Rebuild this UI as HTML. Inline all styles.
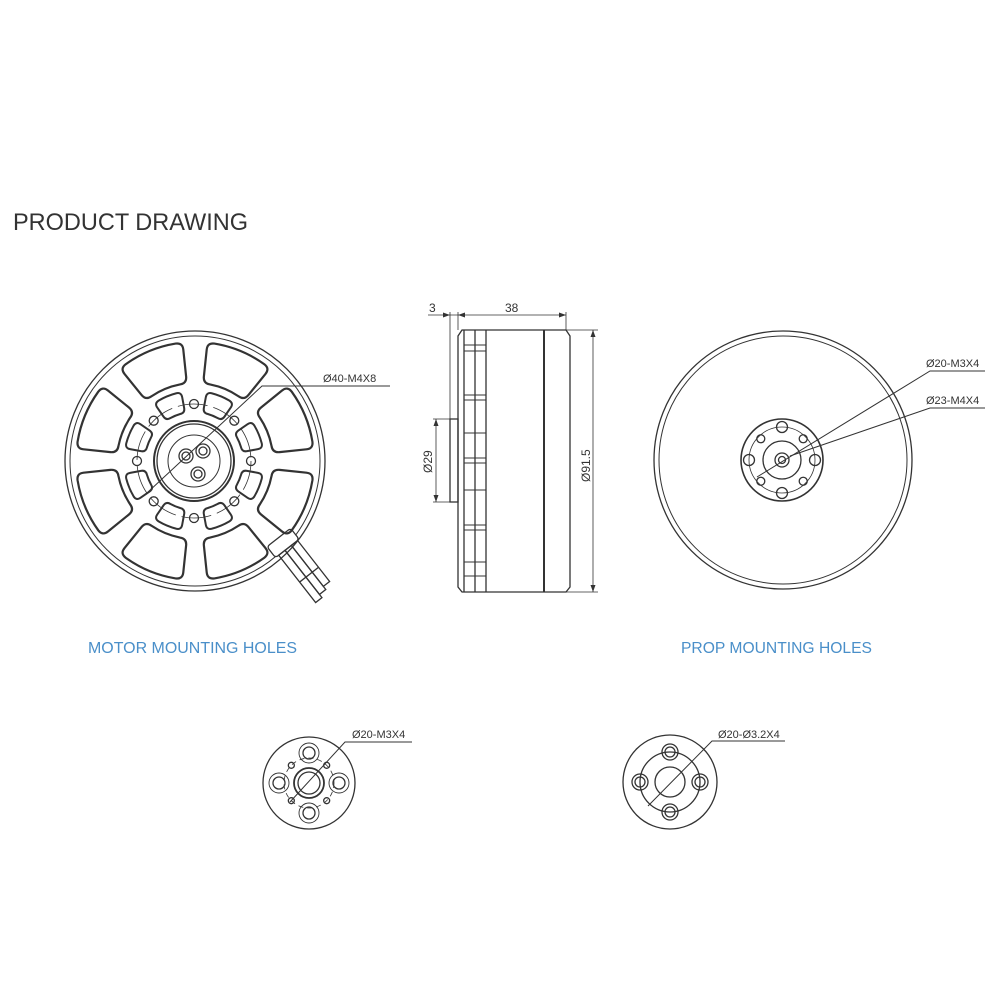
<!DOCTYPE html>
<html><head><meta charset="utf-8"><style>
html,body{margin:0;padding:0;background:#fff;width:1000px;height:1000px;overflow:hidden}
svg{display:block}
text{font-family:"Liberation Sans",sans-serif}
</style></head><body>
<svg id="s" width="1000" height="1000" viewBox="0 0 1000 1000" xmlns="http://www.w3.org/2000/svg">
<rect width="1000" height="1000" fill="#fff"/>
<text x="13" y="230" font-size="24" fill="#333" textLength="235" lengthAdjust="spacingAndGlyphs">PRODUCT DRAWING</text>
<text x="88" y="653" font-size="16" fill="#4a8fc9" textLength="209" lengthAdjust="spacingAndGlyphs">MOTOR MOUNTING HOLES</text>
<text x="681" y="653" font-size="16" fill="#4a8fc9" textLength="191" lengthAdjust="spacingAndGlyphs">PROP MOUNTING HOLES</text>

<g id="g" fill="none" stroke="#333" stroke-width="1.3">
<circle cx="195" cy="461" r="130"/>
<circle cx="195" cy="461" r="125" stroke-width="1"/>
<circle cx="194" cy="461" r="40" stroke-width="2"/>
<circle cx="194" cy="461" r="37"/>
<circle cx="194" cy="461" r="26" stroke-width="1"/>
<circle cx="194" cy="461" r="57" stroke-width="0.8" stroke-dasharray="30 6"/>
<circle cx="186" cy="456" r="7"/><circle cx="186" cy="456" r="4"/>
<circle cx="203" cy="451" r="7"/><circle cx="203" cy="451" r="4"/>
<circle cx="198" cy="474" r="7"/><circle cx="198" cy="474" r="4"/>
<polyline points="148,492 262,386 390,386" stroke-width="1"/>
<g transform="translate(282,540) rotate(52)">
<rect x="-4" y="-14" width="14" height="30" rx="3" fill="#fff"/>
<rect x="10" y="-12" width="52" height="8"/>
<rect x="10" y="-4" width="56" height="8"/>
<rect x="10" y="4" width="60" height="8"/>
<line x1="44" y1="-12" x2="44" y2="12"/>
</g>
<path d="M462,330 L566,330 L570,336 L570,587 L566,592 L462,592 L458,587 L458,336 Z"/>
<line x1="544" y1="330" x2="544" y2="592" stroke-width="2"/>
<line x1="464" y1="330" x2="464" y2="592"/>
<line x1="475" y1="330" x2="475" y2="592"/>
<line x1="486" y1="330" x2="486" y2="592"/>
<g stroke-width="1">
<line x1="464" y1="345" x2="486" y2="345"/><line x1="464" y1="351" x2="486" y2="351"/>
<line x1="464" y1="395" x2="486" y2="395"/><line x1="464" y1="400" x2="486" y2="400"/>
<line x1="464" y1="433" x2="486" y2="433"/><line x1="464" y1="458" x2="486" y2="458"/>
<line x1="464" y1="463" x2="486" y2="463"/><line x1="464" y1="490" x2="486" y2="490"/>
<line x1="464" y1="525" x2="486" y2="525"/><line x1="464" y1="530" x2="486" y2="530"/>
<line x1="464" y1="562" x2="486" y2="562"/><line x1="464" y1="576" x2="486" y2="576"/>
</g>
<rect x="450" y="419" width="8" height="83"/>
<line x1="450" y1="312" x2="450" y2="419" stroke-width="0.8"/>
<line x1="458" y1="312" x2="458" y2="330" stroke-width="0.8"/>
<line x1="566" y1="312" x2="566" y2="330" stroke-width="0.8"/>
<line x1="428" y1="315" x2="566" y2="315" stroke-width="0.8"/>
<line x1="433" y1="419" x2="450" y2="419" stroke-width="0.8"/>
<line x1="433" y1="502" x2="450" y2="502" stroke-width="0.8"/>
<line x1="436" y1="419" x2="436" y2="502" stroke-width="0.8"/>
<line x1="566" y1="330" x2="598" y2="330" stroke-width="0.8"/>
<line x1="566" y1="592" x2="598" y2="592" stroke-width="0.8"/>
<line x1="593" y1="330" x2="593" y2="592" stroke-width="0.8"/>
<circle cx="783" cy="460" r="129"/>
<circle cx="783" cy="460" r="124" stroke-width="1"/>
<circle cx="782" cy="460" r="41" stroke-width="1.6"/>
<circle cx="782" cy="460" r="33" stroke-width="0.8"/>
<circle cx="782" cy="460" r="19"/>
<circle cx="782" cy="460" r="7"/><circle cx="782" cy="460" r="3.5"/>
<polyline points="757,477 930,371 985,371" stroke-width="1"/>
<polyline points="790,456 930,408 985,408" stroke-width="1"/>
<circle cx="309" cy="783" r="46"/>
<circle cx="309" cy="783" r="15" stroke-width="1.8"/>
<circle cx="309" cy="783" r="11"/>
<circle cx="309" cy="783" r="25" stroke-width="0.8" stroke-dasharray="5 4"/>
<polyline points="290,802 345,742 412,742" stroke-width="1"/>
<circle cx="670" cy="782" r="47"/>
<circle cx="670" cy="782" r="30"/>
<circle cx="670" cy="782" r="15"/>
<polyline points="648,806 712,741 785,741" stroke-width="1"/>
</g>
<g fill="#333" font-size="11">
<text x="323" y="382">Ø40-M4X8</text>
<text x="926" y="367">Ø20-M3X4</text>
<text x="926" y="404">Ø23-M4X4</text>
<text x="352" y="738">Ø20-M3X4</text>
<text x="718" y="738">Ø20-Ø3.2X4</text>
<text x="429" y="312" font-size="12">3</text>
<text x="505" y="312" font-size="12">38</text>
<text transform="translate(432,473) rotate(-90)" font-size="12">Ø29</text>
<text transform="translate(590,482) rotate(-90)" font-size="12">Ø91.5</text>
</g>
<g fill="#333">
<path d="M450,315 l-7,-2.5 v5z"/><path d="M458,315 l7,-2.5 v5z"/><path d="M566,315 l-7,-2.5 v5z"/>
<path d="M436,419 l-2.5,7 h5z"/><path d="M436,502 l-2.5,-7 h5z"/>
<path d="M593,330 l-2.5,7 h5z"/><path d="M593,592 l-2.5,-7 h5z"/>
</g>
</svg>
<script>
(function(){
var g=document.getElementById('g'),NS='http://www.w3.org/2000/svg';
function el(t,a){var e=document.createElementNS(NS,t);for(var k in a)e.setAttribute(k,a[k]);g.appendChild(e);return e;}
function P(cx,cy,r,a){a=(a-90)*Math.PI/180;return [cx+r*Math.cos(a),cy+r*Math.sin(a)];}
function rsector(cx,cy,r1,r2,a1,a2,c){
 // rounded annular sector
 var d2=c/r2*180/Math.PI, d1=c/r1*180/Math.PI;
 var A=P(cx,cy,r2,a1+d2),B=P(cx,cy,r2,a2-d2),Bc=P(cx,cy,r2,a2),B2=P(cx,cy,r2-c,a2);
 var C=P(cx,cy,r1+c,a2),Cc=P(cx,cy,r1,a2),C2=P(cx,cy,r1,a2-d1),D=P(cx,cy,r1,a1+d1),Dc=P(cx,cy,r1,a1),D2=P(cx,cy,r1+c,a1);
 var E=P(cx,cy,r2-c,a1),Ec=P(cx,cy,r2,a1);
 return 'M'+A+' A'+r2+','+r2+' 0 0 1 '+B+' Q'+Bc+' '+B2+' L'+C+' Q'+Cc+' '+C2+' A'+r1+','+r1+' 0 0 0 '+D+' Q'+Dc+' '+D2+' L'+E+' Q'+Ec+' '+A+'Z';
}
var cx=195,cy=461;
for(var k=0;k<8;k++){
 var a=22.5+45*k;
 el('path',{d:rsector(cx,cy,78,119,a-16.5,a+16.5,7),'stroke-width':'2.2'});
 el('path',{d:rsector(cx-1,cy,49,70,a-12,a+12,5),'stroke-width':'2'});
 var h=P(cx-1,cy,57,45*k);el('circle',{cx:h[0],cy:h[1],r:4.5});
}
for(var k=0;k<4;k++){
 var h=P(782,460,33,90*k);el('circle',{cx:h[0],cy:h[1],r:5.5});
 h=P(782,460,30,45+90*k);el('circle',{cx:h[0],cy:h[1],r:4});
 h=P(309,783,30,90*k);el('circle',{cx:h[0],cy:h[1],r:10,'stroke-width':'0.9'});el('circle',{cx:h[0],cy:h[1],r:6});
 h=P(309,783,25,45+90*k);el('circle',{cx:h[0],cy:h[1],r:3});
 h=P(670,782,30,90*k);el('circle',{cx:h[0],cy:h[1],r:8});el('circle',{cx:h[0],cy:h[1],r:5});
}
})();
</script>
</body></html>
